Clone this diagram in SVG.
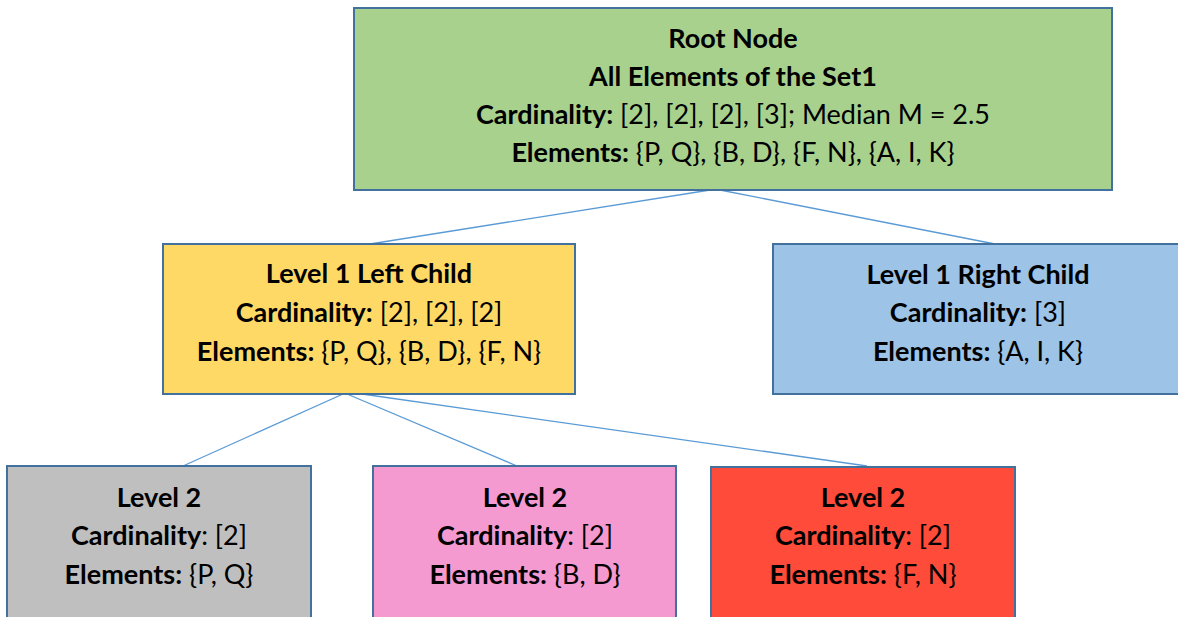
<svg xmlns="http://www.w3.org/2000/svg" width="1178" height="617" viewBox="0 0 1178 617">
  <style>
    .box { stroke: #41719c; stroke-width: 2; }
    .link { stroke: #5b9bd5; stroke-width: 1.3; fill: none; }
    text { font-family: "Lato", "Open Sans", "Liberation Sans", sans-serif; font-size: 27px; fill: #000; text-anchor: middle; }
    .b { font-weight: bold; }
  </style>
  <rect width="1178" height="617" fill="#ffffff"/>

  <g id="connectors">
    <line class="link" x1="710" y1="190" x2="370" y2="244"/>
    <line class="link" x1="720" y1="190" x2="995" y2="244"/>
    <line class="link" x1="343" y1="394" x2="183" y2="466"/>
    <line class="link" x1="347" y1="394" x2="517" y2="466"/>
    <line class="link" x1="362" y1="394" x2="867" y2="466"/>
  </g>

  <g id="root">
    <rect class="box" x="354" y="8" width="758" height="182" fill="#a9d18e"/>
    <text x="733" y="48" class="b">Root Node</text>
    <text x="733" y="86" class="b">All Elements of the Set1</text>
    <text x="733" y="124"><tspan class="b">Cardinality:</tspan> [2], [2], [2], [3]; Median M = 2.5</text>
    <text x="733" y="162"><tspan class="b">Elements:</tspan> {P, Q}, {B, D}, {F, N}, {A, I, K}</text>
  </g>

  <g id="left-child">
    <rect class="box" x="163" y="244" width="412" height="150" fill="#ffd966"/>
    <text x="369" y="283" class="b">Level 1 Left Child</text>
    <text x="369" y="322"><tspan class="b">Cardinality:</tspan> [2], [2], [2]</text>
    <text x="369" y="361"><tspan class="b">Elements:</tspan> {P, Q}, {B, D}, {F, N}</text>
  </g>

  <g id="right-child">
    <rect class="box" x="773" y="244" width="420" height="150" fill="#9dc3e6"/>
    <text x="978" y="284" class="b">Level 1 Right Child</text>
    <text x="978" y="322"><tspan class="b">Cardinality:</tspan> [3]</text>
    <text x="978" y="361"><tspan class="b">Elements:</tspan> {A, I, K}</text>
  </g>

  <g id="level2-pq">
    <rect class="box" x="7" y="466" width="304" height="170" fill="#bfbfbf"/>
    <text x="159" y="507" class="b">Level 2</text>
    <text x="159" y="545"><tspan class="b">Cardinality</tspan>: [2]</text>
    <text x="159" y="584"><tspan class="b">Elements:</tspan> {P, Q}</text>
  </g>

  <g id="level2-bd">
    <rect class="box" x="373" y="466" width="303" height="170" fill="#f49ad0"/>
    <text x="525" y="507" class="b">Level 2</text>
    <text x="525" y="545"><tspan class="b">Cardinality</tspan>: [2]</text>
    <text x="525" y="584"><tspan class="b">Elements:</tspan> {B, D}</text>
  </g>

  <g id="level2-fn">
    <rect class="box" x="711" y="467" width="304" height="170" fill="#ff4b3a"/>
    <text x="863" y="507" class="b">Level 2</text>
    <text x="863" y="545"><tspan class="b">Cardinality</tspan>: [2]</text>
    <text x="863" y="584"><tspan class="b">Elements:</tspan> {F, N}</text>
  </g>
</svg>
